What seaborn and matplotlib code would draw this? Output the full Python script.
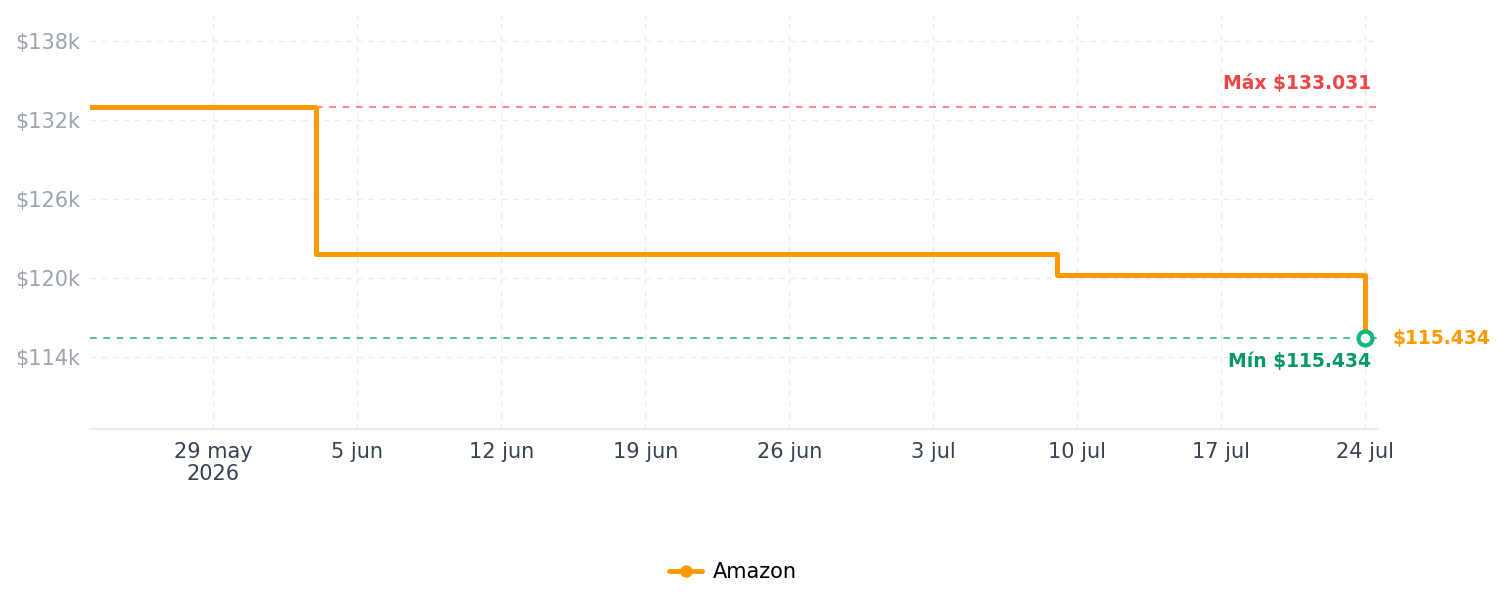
import pandas as pd
import matplotlib
matplotlib.use("Agg")
import matplotlib.pyplot as plt
from matplotlib.lines import Line2D
import seaborn as sns

# price history (steps)
dates = ["2026-05-23", "2026-06-03", "2026-07-09", "2026-07-24"]
prices = [133031, 121800, 120200, 115434]
store = "Amazon"

max_price = 133031
min_price = 115434
max_from = "2026-06-03"

tick_dates = ["2026-05-29", "2026-06-05", "2026-06-12", "2026-06-19", "2026-06-26",
              "2026-07-03", "2026-07-10", "2026-07-17", "2026-07-24"]
tick_labels = ["29 may\n2026", "5 jun", "12 jun", "19 jun", "26 jun",
               "3 jul", "10 jul", "17 jul", "24 jul"]
y_ticks = [114000, 120000, 126000, 132000, 138000]
y_labels = ["$114k", "$120k", "$126k", "$132k", "$138k"]

ORANGE = "#ff9900"
df = pd.DataFrame({"date": pd.to_datetime(dates), "price": prices})

sns.set_style("white")
plt.rcParams["font.family"] = ["DejaVu Sans"]

fig = plt.figure(figsize=(15.05, 6.07), dpi=100)
ax = fig.add_axes([0.0598, 0.293, 0.8552, 0.682])

x0 = pd.Timestamp("2026-05-23")
x1 = pd.Timestamp("2026-07-24 14:00")

sns.lineplot(data=df, x="date", y="price", drawstyle="steps-post", color=ORANGE,
             linewidth=3.6, ax=ax, legend=False, zorder=4)

# max / min reference lines
ax.plot([pd.Timestamp(max_from), x1], [max_price, max_price], color="#f87171",
        linestyle=(0, (4, 4)), linewidth=1.2, zorder=3)
ax.plot([x0, x1], [min_price, min_price], color="#34b38a",
        linestyle=(0, (4, 4)), linewidth=1.2, zorder=3)

# last point
ax.plot(df["date"].iloc[-1], df["price"].iloc[-1], marker="o", markersize=10,
        markerfacecolor="white", markeredgecolor="#10b981", markeredgewidth=3, zorder=5)

lab_x = pd.Timestamp("2026-07-24 07:00")
ax.text(lab_x, max_price + 1750, "Máx $133.031", color="#ef4444",
        fontsize=13.5, fontweight="bold", ha="right", va="center")
ax.text(lab_x, min_price - 1750, "Mín $115.434", color="#059669",
        fontsize=13.5, fontweight="bold", ha="right", va="center")
ax.text(pd.Timestamp("2026-07-25 08:00"), min_price, "$115.434", color=ORANGE,
        fontsize=13.5, fontweight="bold", ha="left", va="center", clip_on=False)

ax.set_xlim(x0, x1)
ax.set_ylim(108500, 140000)
ax.set_xticks(pd.to_datetime(tick_dates))
ax.set_xticklabels(tick_labels, fontsize=15, color="#374151", linespacing=1.15)
ax.set_yticks(y_ticks)
ax.set_yticklabels(y_labels, fontsize=15, color="#9ca3af")
ax.tick_params(axis="x", length=0, pad=9)
ax.tick_params(axis="y", length=0, pad=7)
ax.set_xlabel("")
ax.set_ylabel("")

ax.grid(True, color="#ececec", linestyle=(0, (4, 4)), linewidth=1)
for side in ["top", "right", "left"]:
    ax.spines[side].set_visible(False)
ax.spines["bottom"].set_color("#e5e7eb")
ax.spines["bottom"].set_linewidth(1.2)

handle = Line2D([], [], color=ORANGE, linewidth=3.5, marker="o", markersize=8)
leg = fig.legend([handle], [store], loc="center", bbox_to_anchor=(0.487, 0.057),
                 frameon=False, fontsize=15, handlelength=1.6, handletextpad=0.5)
for t in leg.get_texts():
    t.set_color("black")

plt.savefig("out.png", dpi=100)
